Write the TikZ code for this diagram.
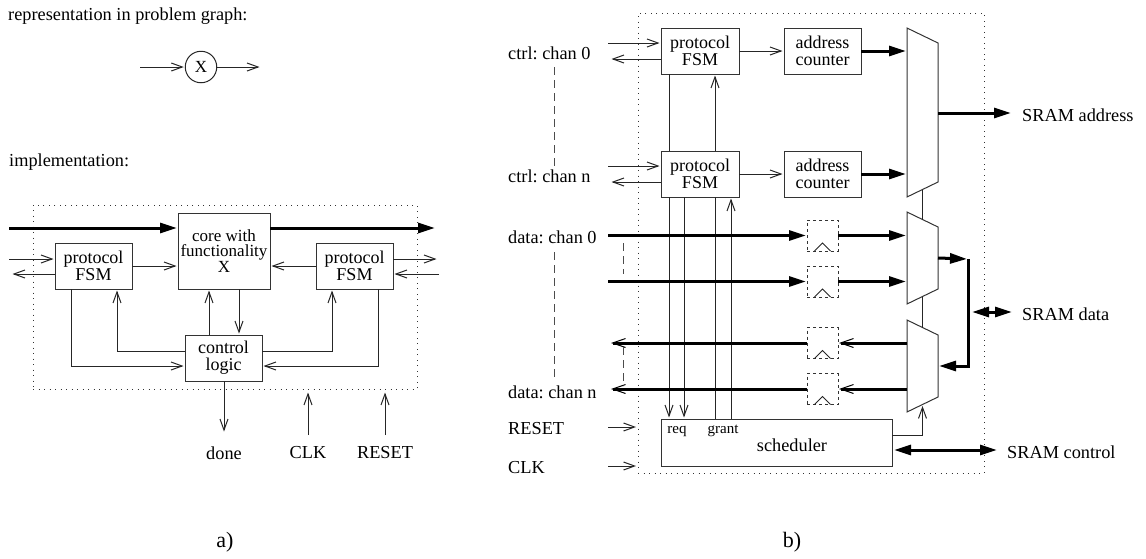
\documentclass[tikz,border=0pt]{standalone}
\usepackage{fontspec}
\setmainfont{Liberation Serif}
\usetikzlibrary{arrows.meta,positioning,calc}
\tikzset{
  block/.style={rectangle, draw=black!80, line width=1pt, inner sep=0pt, outer sep=0pt, align=center, font=\fontsize{18}{17}\selectfont},
  fsm/.style={block, minimum width=77pt, minimum height=46pt},
  core/.style={block, minimum width=92pt, minimum height=76pt, font=\fontsize{17}{15.5}\selectfont},
  flop/.style={rectangle, draw=black!80, dashed, line width=1pt, minimum size=31pt, inner sep=0pt, outer sep=0pt},
  muxbox/.style={rectangle, inner sep=0pt, outer sep=0pt, minimum width=31pt},
  label/.style={inner sep=0pt, font=\fontsize{18.3}{20}\selectfont},
  small/.style={inner sep=0pt, font=\fontsize{15}{17}\selectfont},
  arrow/.style={-{Straight Barb[length=11pt,width=8pt]}, line width=1pt, black!85, shorten >=1.5pt},
  wire/.style={line width=1pt, black!85},
  bus/.style={-{Triangle[length=17pt,width=10pt]}, line width=3pt, black, shorten >=1pt},
  busback/.style={-{Straight Barb[length=13pt,width=9pt,line width=1pt]}, line width=3pt, black, shorten >=1pt},
  busboth/.style={{Triangle[length=17pt,width=10pt]}-{Triangle[length=17pt,width=10pt]}, line width=3pt, black},
  boundary/.style={draw=black!80, line width=1pt, dash pattern=on 1pt off 4.5pt},
  stub/.style={draw=black!70, line width=1pt, dash pattern=on 8pt off 5pt}
}

\begin{document}
\frenchspacing
\begin{tikzpicture}[x=1pt,y=-1pt]
  \useasboundingbox (0,0) rectangle (1146,558);

  % a)
  \node[label, anchor=west] (reprtxt) at (8,16) {representation in problem graph:};
  \node[circle, draw=black!85, line width=1pt, minimum size=31.5pt, inner sep=0pt, outer sep=0pt, font=\fontsize{17}{17}\selectfont] (x) at (201,67) {X};
  \coordinate (xin) at (140,67);
  \coordinate (xout) at (261,67);
  \draw[arrow] (xin)--(x);
  \draw[arrow] (x)--(xout);
  \node[label, anchor=west] (impltxt) at (9,162) {implementation:};
  \node[boundary, rectangle, minimum width=384pt, minimum height=184pt, inner sep=0pt] (impl) at (225,297) {};
  \node[core] (func) at (224,251) {core with\\functionality\\X};
  \node[fsm] (fsml) at (93.5,266) {protocol\\FSM};
  \node[fsm] (fsmr) at (354.5,266) {protocol\\FSM};
  \node[fsm] (ctl) at (223.5,358) {control\\logic};
  \coordinate (busin) at (9,228);
  \coordinate (busout) at (436,228);
  \draw[bus] (busin)--(busin -| func.west);
  \draw[bus] (busout -| func.east)--(busout);
  \coordinate (lin) at (9,259);
  \coordinate (lout) at (11,274);
  \coordinate (rout) at (438,259);
  \coordinate (rin) at (439,274);
  \draw[arrow] (lin)--(lin -| fsml.west);
  \draw[arrow] (lout -| fsml.west)--(lout);
  \draw[arrow] (rout -| fsmr.east)--(rout);
  \draw[arrow] (rin)--(rin -| fsmr.east);
  \draw[arrow] (fsml.east)--(fsml.east -| func.west);
  \draw[arrow] (fsmr.west)--(fsmr.west -| func.east);
  \coordinate (ctlup) at (209,0);
  \coordinate (ctldn) at (239,0);
  \draw[arrow] (ctl.north -| ctlup)--(func.south -| ctlup);
  \draw[arrow] (func.south -| ctldn)--(ctl.north -| ctldn);
  \coordinate (ctla) at (0,351);
  \coordinate (ctlb) at (0,366);
  \draw[arrow] (ctla -| ctl.west)-|(117,0 |- fsml.south);
  \draw[arrow] (ctla -| ctl.east)-|(332,0 |- fsmr.south);
  \draw[arrow] (71,0 |- fsml.south)|-(ctlb -| ctl.west);
  \draw[arrow] (378,0 |- fsmr.south)|-(ctlb -| ctl.east);
  \node[label] (done) at (224,453) {done};
  \node[label] (clka) at (308,453) {CLK};
  \node[label] (reseta) at (385,453) {RESET};
  \coordinate (doneend) at (224,433);
  \coordinate (clkstart) at (308,435);
  \coordinate (clkend) at (308,391);
  \coordinate (resetstart) at (385,435);
  \coordinate (resetend) at (385,391);
  \draw[arrow] (ctl.south -| doneend)--(doneend);
  \draw[arrow] (clkstart)--(clkend);
  \draw[arrow] (resetstart)--(resetend);
  \node[font=\fontsize{22}{22}\selectfont, inner sep=0pt] (parta) at (225,542) {a)};

  % b)
  \node[boundary, rectangle, minimum width=346pt, minimum height=460pt, inner sep=0pt] (ctrlr) at (811,243) {};
  \node[fsm, minimum width=78pt] (fsma) at (700,51) {protocol\\FSM};
  \node[fsm, minimum width=78pt] (fsmb) at (700,174) {protocol\\FSM};
  \node[fsm] (addra) at (822.5,51) {address\\counter};
  \node[fsm] (addrb) at (822.5,174) {address\\counter};
  \node[muxbox, minimum height=169pt] (muxa) at (922.5,112.5) {};
  \node[muxbox, minimum height=92pt] (muxb) at (922.5,258) {};
  \node[muxbox, minimum height=92pt] (muxc) at (922.5,366) {};
  \foreach \m in {muxa,muxb,muxc}
    \draw[wire, black!80] (\m.north west)--([yshift=-15pt]\m.north east)--([yshift=15pt]\m.south east)--(\m.south west)--cycle;
  \node[flop] (flopa) at (822.5,235.5) {};
  \node[flop] (flopb) at (822.5,281.5) {};
  \node[flop] (flopc) at (822.5,343) {};
  \node[flop] (flopd) at (822.5,389) {};
  \foreach \f in {flopa,flopb,flopc,flopd}
    \draw[wire] ([xshift=-8pt]\f.south)--([yshift=8pt]\f.south)--([xshift=8pt]\f.south);
  \node[block, minimum width=231pt, minimum height=47pt] (sched) at (776.5,442.5) {};
  \node[label] (schedtxt) at (792,445) {scheduler};
  \node[small] (reqtxt) at (677,431) {req};
  \node[small] (granttxt) at (723,431) {grant};

  \node[label, anchor=west] (ctrla) at (508,53) {ctrl: chan 0};
  \node[label, anchor=west] (ctrlb) at (508,176) {ctrl: chan n};
  \node[label, anchor=west] (dataa) at (508,237) {data: chan 0};
  \node[label, anchor=west] (datab) at (508,392) {data: chan n};
  \node[label, anchor=west] (resetb) at (508,429) {RESET};
  \node[label, anchor=west] (clkb) at (508,468) {CLK};
  \node[label, anchor=west] (sramaddr) at (1022,115) {SRAM address};
  \node[label, anchor=west] (sramdata) at (1022,314) {SRAM data};
  \node[label, anchor=west] (sramctl) at (1007,452) {SRAM control};

  \coordinate (cina) at (608,43);
  \coordinate (couta) at (610,59);
  \coordinate (cinb) at (608,166);
  \coordinate (coutb) at (610,182);
  \draw[arrow] (cina)--(cina -| fsma.west);
  \draw[arrow] (couta -| fsma.west)--(couta);
  \draw[arrow] (cinb)--(cinb -| fsmb.west);
  \draw[arrow] (coutb -| fsmb.west)--(coutb);
  \draw[arrow] (fsma.east)--(addra.west);
  \draw[arrow] (fsmb.east)--(addrb.west);
  \draw[bus] (addra.east)--(addra.east -| muxa.west);
  \draw[bus] (addrb.east)--(addrb.east -| muxa.west);

  \coordinate (xa) at (669,0);
  \coordinate (xb) at (684,0);
  \coordinate (xc) at (715,0);
  \coordinate (xd) at (731,0);
  \draw[wire] (fsma.south -| xa)--(fsmb.north -| xa);
  \draw[arrow] (fsmb.south -| xa)--(sched.north -| xa);
  \draw[arrow] (fsmb.south -| xb)--(sched.north -| xb);
  \draw[wire] (sched.north -| xc)--(fsmb.south -| xc);
  \draw[arrow] (fsmb.north -| xc)--(fsma.south -| xc);
  \draw[arrow] (sched.north -| xd)--(fsmb.south -| xd);

  \coordinate (dataoa) at (608,235.5);
  \coordinate (dataob) at (608,281.5);
  \coordinate (dataic) at (610,343);
  \coordinate (dataid) at (610,389);
  \draw[bus] (dataoa)--(flopa.west);
  \draw[bus] (dataob)--(flopb.west);
  \draw[bus] (flopa.east)--(flopa.east -| muxb.west);
  \draw[bus] (flopb.east)--(flopb.east -| muxb.west);
  \draw[busback] (flopc.west)--(dataic);
  \draw[busback] (flopd.west)--(dataid);
  \draw[busback] (flopc.east -| muxc.west)--(flopc.east);
  \draw[busback] (flopd.east -| muxc.west)--(flopd.east);

  \coordinate (sramaddrend) at (1012,113);
  \draw[bus] (sramaddrend -| muxa.east)--(sramaddrend);
  \coordinate (rail) at (968,259);
  \coordinate (railend) at (968,366);
  \coordinate (srama) at (972,312);
  \coordinate (sramb) at (1012,312);
  \draw[bus] (muxb.east)--(rail);
  \draw[bus, line join=miter] (rail)--(railend)--(railend -| muxc.east);
  \draw[busboth] (srama)--(sramb);
  \coordinate (sctla) at (894,450);
  \coordinate (sctlb) at (997,450);
  \draw[busboth] (sctla)--(sctlb);

  \draw[wire] ([yshift=7.5pt]muxa.south)--([yshift=-7.5pt]muxb.north);
  \draw[wire] ([yshift=7.5pt]muxb.south)--([yshift=-7.5pt]muxc.north);
  \coordinate (selin) at (892,435);
  \draw[arrow] (selin)-|([yshift=7.5pt]muxc.south);

  \coordinate (rstin) at (608,427);
  \coordinate (clkin) at (608,466);
  \draw[arrow] (rstin)--(rstin -| ctrlr.west);
  \draw[arrow] (clkin)--(clkin -| ctrlr.west);

  \coordinate (stuba) at (554,67);
  \coordinate (stubb) at (554,166);
  \coordinate (stubc) at (554,252);
  \coordinate (stubd) at (554,380);
  \coordinate (stube) at (623,243);
  \coordinate (stubf) at (623,274);
  \coordinate (stubg) at (623,347);
  \coordinate (stubh) at (623,386);
  \draw[stub] (stuba)--(stubb);
  \draw[stub] (stubc)--(stubd);
  \draw[stub] (stube)--(stubf);
  \draw[stub] (stubg)--(stubh);
  \node[font=\fontsize{22}{22}\selectfont, inner sep=0pt] (partb) at (792,542) {b)};
\end{tikzpicture}
\end{document}
